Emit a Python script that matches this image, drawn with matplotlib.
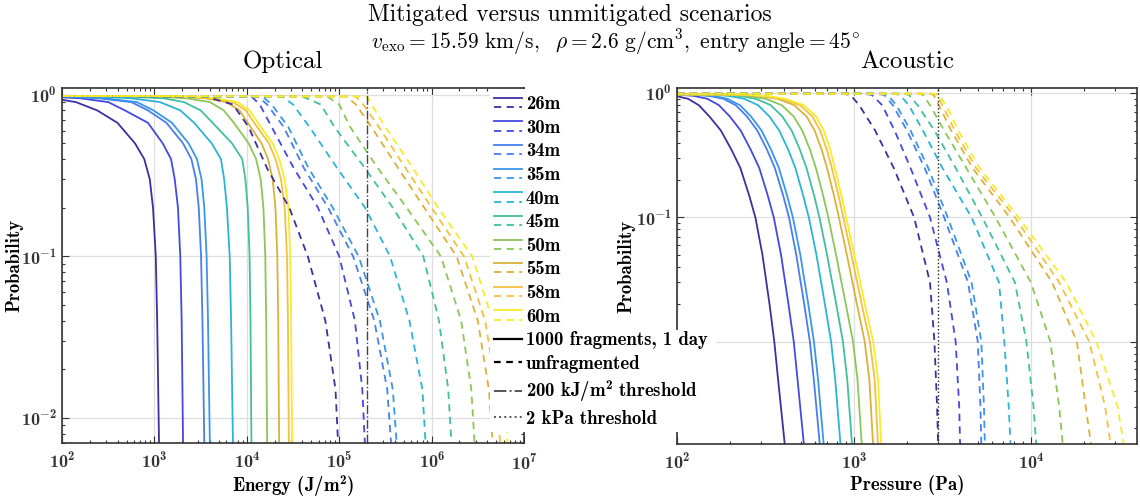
import numpy as np
import matplotlib
matplotlib.use('Agg')
import matplotlib.pyplot as plt
from matplotlib.lines import Line2D
from matplotlib.patches import Rectangle
from matplotlib.legend_handler import HandlerBase
from matplotlib.ticker import FuncFormatter, LogLocator, NullFormatter

# bold computer modern everywhere except the two title lines
plt.rcParams['mathtext.fontset'] = 'custom'
plt.rcParams['mathtext.rm'] = 'cmb10'
plt.rcParams['mathtext.bf'] = 'cmb10'
plt.rcParams['font.family'] = 'cmb10'
plt.rcParams['axes.unicode_minus'] = False

sizes = ['26m', '30m', '34m', '35m', '40m', '45m', '50m', '55m', '58m', '60m']
colors = ['#3e2fa0', '#4549df', '#4a7df2', '#3a96ea', '#2db3d3',
          '#42bf9c', '#8cc65a', '#d9b23c', '#f3c043', '#f6ec2a']

# optical, 1000 fragments (log10 energy at each probability level)
opt_solid_p = [0.985, 0.98, 0.95, 0.9, 0.8, 0.67, 0.5, 0.4, 0.3, 0.2, 0.1, 0.04, 0.007, 0.005]
opt_solid_logE = [
    [1.0, 1.5, 1.9, 2.15, 2.38, 2.60, 2.79, 2.89, 2.95, 2.985, 3.015, 3.03, 3.05, 3.055],
    [1.0, 1.7, 2.2, 2.5, 2.68, 2.93, 3.09, 3.18, 3.22, 3.255, 3.28, 3.295, 3.31, 3.315],
    [1.0, 1.9, 2.4, 2.75, 2.93, 3.13, 3.31, 3.40, 3.45, 3.48, 3.505, 3.52, 3.54, 3.545],
    [1.0, 1.95, 2.46, 2.81, 2.99, 3.19, 3.37, 3.46, 3.51, 3.54, 3.565, 3.58, 3.60, 3.605],
    [1.0, 2.3, 2.75, 3.06, 3.28, 3.43, 3.62, 3.72, 3.755, 3.785, 3.815, 3.83, 3.85, 3.855],
    [1.0, 2.6, 3.1, 3.32, 3.5, 3.63, 3.84, 3.95, 3.985, 4.01, 4.03, 4.04, 4.05, 4.055],
    [1.0, 2.9, 3.35, 3.6, 3.75, 3.86, 4.02, 4.10, 4.15, 4.18, 4.20, 4.21, 4.22, 4.225],
    [1.0, 3.1, 3.55, 3.78, 3.92, 4.01, 4.16, 4.23, 4.28, 4.31, 4.33, 4.34, 4.35, 4.355],
    [1.0, 3.2, 3.62, 3.85, 3.99, 4.08, 4.24, 4.31, 4.37, 4.41, 4.435, 4.445, 4.455, 4.46],
    [1.0, 3.25, 3.67, 3.9, 4.03, 4.12, 4.28, 4.35, 4.41, 4.45, 4.47, 4.48, 4.49, 4.495],
]

# optical, unfragmented
opt_dash_p = [0.985, 0.975, 0.87, 0.63, 0.35, 0.2, 0.1, 0.04, 0.015, 0.005]
opt_dash_logE = [
    [1.0, 3.55, 3.85, 4.02, 4.22, 4.46, 4.66, 4.85, 4.96, 5.0],
    [1.0, 4.05, 4.14, 4.27, 4.51, 4.77, 5.0, 5.17, 5.25, 5.29],
    [1.0, 4.12, 4.22, 4.40, 4.62, 4.88, 5.15, 5.38, 5.52, 5.58],
    [1.0, 4.17, 4.27, 4.45, 4.67, 4.93, 5.21, 5.44, 5.58, 5.64],
    [1.0, 4.38, 4.5, 4.68, 4.98, 5.28, 5.55, 5.76, 5.90, 5.95],
    [1.0, 4.6, 4.8, 4.95, 5.28, 5.58, 5.91, 6.08, 6.18, 6.23],
    [1.0, 4.87, 5.0, 5.12, 5.42, 5.73, 6.10, 6.32, 6.43, 6.48],
    [1.0, 5.08, 5.18, 5.35, 5.64, 5.92, 6.27, 6.50, 6.62, 6.68],
    [1.0, 5.18, 5.26, 5.43, 5.72, 6.0, 6.35, 6.58, 6.70, 6.76],
    [1.0, 5.3, 5.35, 5.50, 5.80, 6.07, 6.44, 6.66, 6.78, 6.84],
]

# acoustic, 1000 fragments (log10 pressure)
ac_solid_p = [0.985, 0.975, 0.95, 0.9, 0.8, 0.65, 0.5, 0.35, 0.25, 0.15, 0.1,
              0.05, 0.02, 0.01, 0.005, 0.0015, 0.001]
ac_solid_logP = [
    [1.0, 1.903, 1.993, 2.063, 2.123, 2.183, 2.248, 2.308, 2.358, 2.408, 2.443, 2.483, 2.523, 2.55, 2.571, 2.609, 2.618],
    [1.0, 2.001, 2.097, 2.172, 2.237, 2.298, 2.360, 2.417, 2.465, 2.513, 2.547, 2.588, 2.630, 2.660, 2.681, 2.717, 2.725],
    [1.0, 2.081, 2.183, 2.263, 2.332, 2.395, 2.454, 2.509, 2.553, 2.600, 2.633, 2.674, 2.719, 2.751, 2.773, 2.807, 2.815],
    [1.0, 2.102, 2.205, 2.285, 2.356, 2.418, 2.478, 2.532, 2.576, 2.622, 2.655, 2.697, 2.742, 2.774, 2.797, 2.829, 2.837],
    [1.0, 2.185, 2.295, 2.381, 2.458, 2.522, 2.578, 2.629, 2.669, 2.713, 2.745, 2.788, 2.836, 2.871, 2.894, 2.924, 2.932],
    [1.0, 2.237, 2.355, 2.447, 2.530, 2.595, 2.648, 2.695, 2.732, 2.775, 2.805, 2.848, 2.900, 2.938, 2.962, 2.989, 2.996],
    [1.0, 2.280, 2.405, 2.503, 2.592, 2.659, 2.708, 2.752, 2.785, 2.826, 2.855, 2.899, 2.954, 2.995, 3.020, 3.044, 3.050],
    [1.0, 2.333, 2.465, 2.569, 2.663, 2.732, 2.778, 2.818, 2.848, 2.887, 2.915, 2.960, 3.017, 3.061, 3.087, 3.108, 3.114],
    [1.0, 2.353, 2.490, 2.598, 2.695, 2.765, 2.809, 2.847, 2.875, 2.913, 2.940, 2.986, 3.044, 3.090, 3.117, 3.136, 3.141],
    [1.0, 2.366, 2.506, 2.616, 2.716, 2.786, 2.829, 2.866, 2.892, 2.929, 2.956, 3.002, 3.062, 3.109, 3.136, 3.154, 3.159],
]

# acoustic, unfragmented
ac_dash_p = [0.99, 0.99, 0.97, 0.8, 0.5, 0.25, 0.1, 0.03, 0.01, 0.003, 0.0015, 0.001]
ac_dash_logP = [
    [1.0, 2.93, 2.98, 3.03, 3.12, 3.225, 3.34, 3.43, 3.455, 3.47, 3.476, 3.48],
    [1.0, 3.05, 3.10, 3.16, 3.23, 3.32, 3.43, 3.525, 3.575, 3.595, 3.60, 3.605],
    [1.0, 3.12, 3.17, 3.22, 3.30, 3.40, 3.51, 3.645, 3.70, 3.715, 3.72, 3.725],
    [1.0, 3.14, 3.19, 3.24, 3.32, 3.42, 3.53, 3.665, 3.72, 3.735, 3.74, 3.745],
    [1.0, 3.22, 3.26, 3.31, 3.39, 3.50, 3.665, 3.82, 3.85, 3.875, 3.885, 3.89],
    [1.0, 3.28, 3.31, 3.36, 3.455, 3.575, 3.725, 3.91, 3.975, 4.015, 4.03, 4.035],
    [1.0, 3.36, 3.39, 3.43, 3.51, 3.635, 3.80, 4.00, 4.11, 4.16, 4.18, 4.19],
    [1.0, 3.42, 3.45, 3.48, 3.55, 3.67, 3.88, 4.12, 4.26, 4.31, 4.34, 4.35],
    [1.0, 3.44, 3.47, 3.50, 3.57, 3.69, 3.91, 4.16, 4.33, 4.42, 4.45, 4.46],
    [1.0, 3.45, 3.48, 3.52, 3.59, 3.71, 3.93, 4.20, 4.37, 4.49, 4.525, 4.535],
]

energy_threshold = 2e5
pressure_threshold = 3e3

DASH = (0, (4, 3))
W, H = 1140, 499
FS = 13.5
TFS = 13


class PairHandler(HandlerBase):
    # solid line on top, dashed line underneath, like the matlab legend
    def create_artists(self, legend, orig_handle, xdescent, ydescent,
                       width, height, fontsize, trans):
        c = orig_handle[0].get_color()
        x0, x1 = -xdescent, -xdescent + width
        ya = -ydescent + 0.85 * height
        yb = -ydescent + 0.15 * height
        l1 = Line2D([x0, x1], [ya, ya], color=c, lw=1.3, transform=trans)
        l2 = Line2D([x0, x1], [yb, yb], color=c, lw=1.3, ls=DASH, transform=trans)
        return [l1, l2]


def pow_label(v, pos):
    return r'$10^{%d}$' % round(np.log10(v))


def style_axes(ax):
    ax.set_xscale('log')
    ax.set_yscale('log')
    ax.set_axisbelow(True)
    ax.grid(True, which='major', color='#dedede', lw=0.9)
    ax.tick_params(which='both', direction='in', top=True, right=True,
                   colors='#333333', labelsize=TFS, width=0.8)
    ax.tick_params(which='major', length=5)
    ax.tick_params(which='minor', length=2.5)
    ax.tick_params(axis='x', which='major', pad=6)
    ax.tick_params(axis='y', which='major', pad=4)
    for axis in (ax.xaxis, ax.yaxis):
        axis.set_major_locator(LogLocator(base=10, numticks=20))
        axis.set_minor_locator(LogLocator(base=10, subs=np.arange(2, 10), numticks=20))
        axis.set_major_formatter(FuncFormatter(pow_label))
        axis.set_minor_formatter(NullFormatter())
    for s in ax.spines.values():
        s.set_color('#333333')
        s.set_linewidth(1.2)


fig = plt.figure(figsize=(W / 100, H / 100), dpi=100)
ax1 = fig.add_axes([62 / W, 1 - 443 / H, 462 / W, 355 / H])
ax2 = fig.add_axes([677 / W, 1 - 444 / H, 460 / W, 356 / H])
ax1.set_zorder(2)
ax2.set_zorder(1)
ax2.patch.set_alpha(0)

for i in range(len(sizes)):
    ax1.plot(10 ** np.array(opt_solid_logE[i]), opt_solid_p, color=colors[i], lw=1.3)
    ax2.plot(10 ** np.array(ac_solid_logP[i]), ac_solid_p, color=colors[i], lw=1.3)
for i in range(len(sizes)):
    ax1.plot(10 ** np.array(opt_dash_logE[i]), opt_dash_p, color=colors[i], lw=1.3, ls=DASH)
    ax2.plot(10 ** np.array(ac_dash_logP[i]), ac_dash_p, color=colors[i], lw=1.3, ls=DASH)

ax1.axvline(energy_threshold, color='#444444', lw=1.0, ls='-.')
ax2.axvline(pressure_threshold, color='#222222', lw=1.0, ls=':')

for ax in (ax1, ax2):
    style_axes(ax)
    ax.set_ylabel('Probability', fontsize=FS)
    ax.xaxis.set_label_coords(0.5, -0.086)
ax1.yaxis.set_label_coords(-0.084, 0.5)
ax2.yaxis.set_label_coords(-0.091, 0.5)
# the 10^-2 label on the right panel sits under the legend in the original
ax2.yaxis.set_major_formatter(FuncFormatter(lambda v, pos: '' if v < 0.05 else pow_label(v, pos)))

ax1.set_xlim(1e2, 1e7)
ax1.set_ylim(0.007, 1.1)
ax2.set_xlim(1e2, 10 ** 4.6)
ax2.set_ylim(0.0015, 1.1)
ax1.set_xlabel(r'Energy (J/m$^2$)', fontsize=FS)
ax2.set_xlabel('Pressure (Pa)', fontsize=FS)

# titles (regular weight)
fig.text(0.5, 1 - 15 / H, 'Mitigated versus unmitigated scenarios',
         ha='center', va='center', fontsize=17, family='cmr10')
fig.text(615 / W, 1 - 42 / H,
         r'$v_{\mathrm{exo}} = 15.59\ \mathrm{km/s},\ \ \rho = 2.6\ \mathrm{g/cm}^{3}\mathrm{,\ entry\ angle} = 45^{\circ}$',
         ha='center', va='center', fontsize=15.5, math_fontfamily='cm')
fig.text(283 / W, 1 - 62 / H, 'Optical', ha='center', va='center', fontsize=18, family='cmr10')
fig.text(907 / W, 1 - 62 / H, 'Acoustic', ha='center', va='center', fontsize=18, family='cmr10')

# white box behind the legend (matlab legend background)
for (x0, y0, x1, y1) in [(490, 89, 527, 432), (490, 330, 716, 432)]:
    ax1.add_patch(Rectangle((x0 / W, 1 - y1 / H), (x1 - x0) / W, (y1 - y0) / H,
                            transform=fig.transFigure, facecolor='white',
                            edgecolor='none', clip_on=False, zorder=4))

handles = [(Line2D([], [], color=c), Line2D([], [], color=c, ls=DASH)) for c in colors]
handles += [Line2D([], [], color='black', lw=1.6),
            Line2D([], [], color='black', lw=1.6, ls=(0, (3, 2.5))),
            Line2D([], [], color='#555555', lw=1.4, ls='-.'),
            Line2D([], [], color='#555555', lw=1.4, ls=':')]
labels = sizes + ['1000 fragments, 1 day', 'unfragmented',
                  r'200 kJ/m$^2$ threshold', '2 kPa threshold']
leg = ax1.legend(handles, labels, handler_map={tuple: PairHandler()},
                 loc='upper left', bbox_to_anchor=(494 / W, 1 - 95 / H),
                 bbox_transform=fig.transFigure, frameon=False,
                 prop={'family': 'cmb10', 'size': FS}, handlelength=1.5,
                 handletextpad=0.2, labelspacing=0.3, borderpad=0, borderaxespad=0)
leg.set_zorder(5)

fig.savefig('out.png', dpi=100)
